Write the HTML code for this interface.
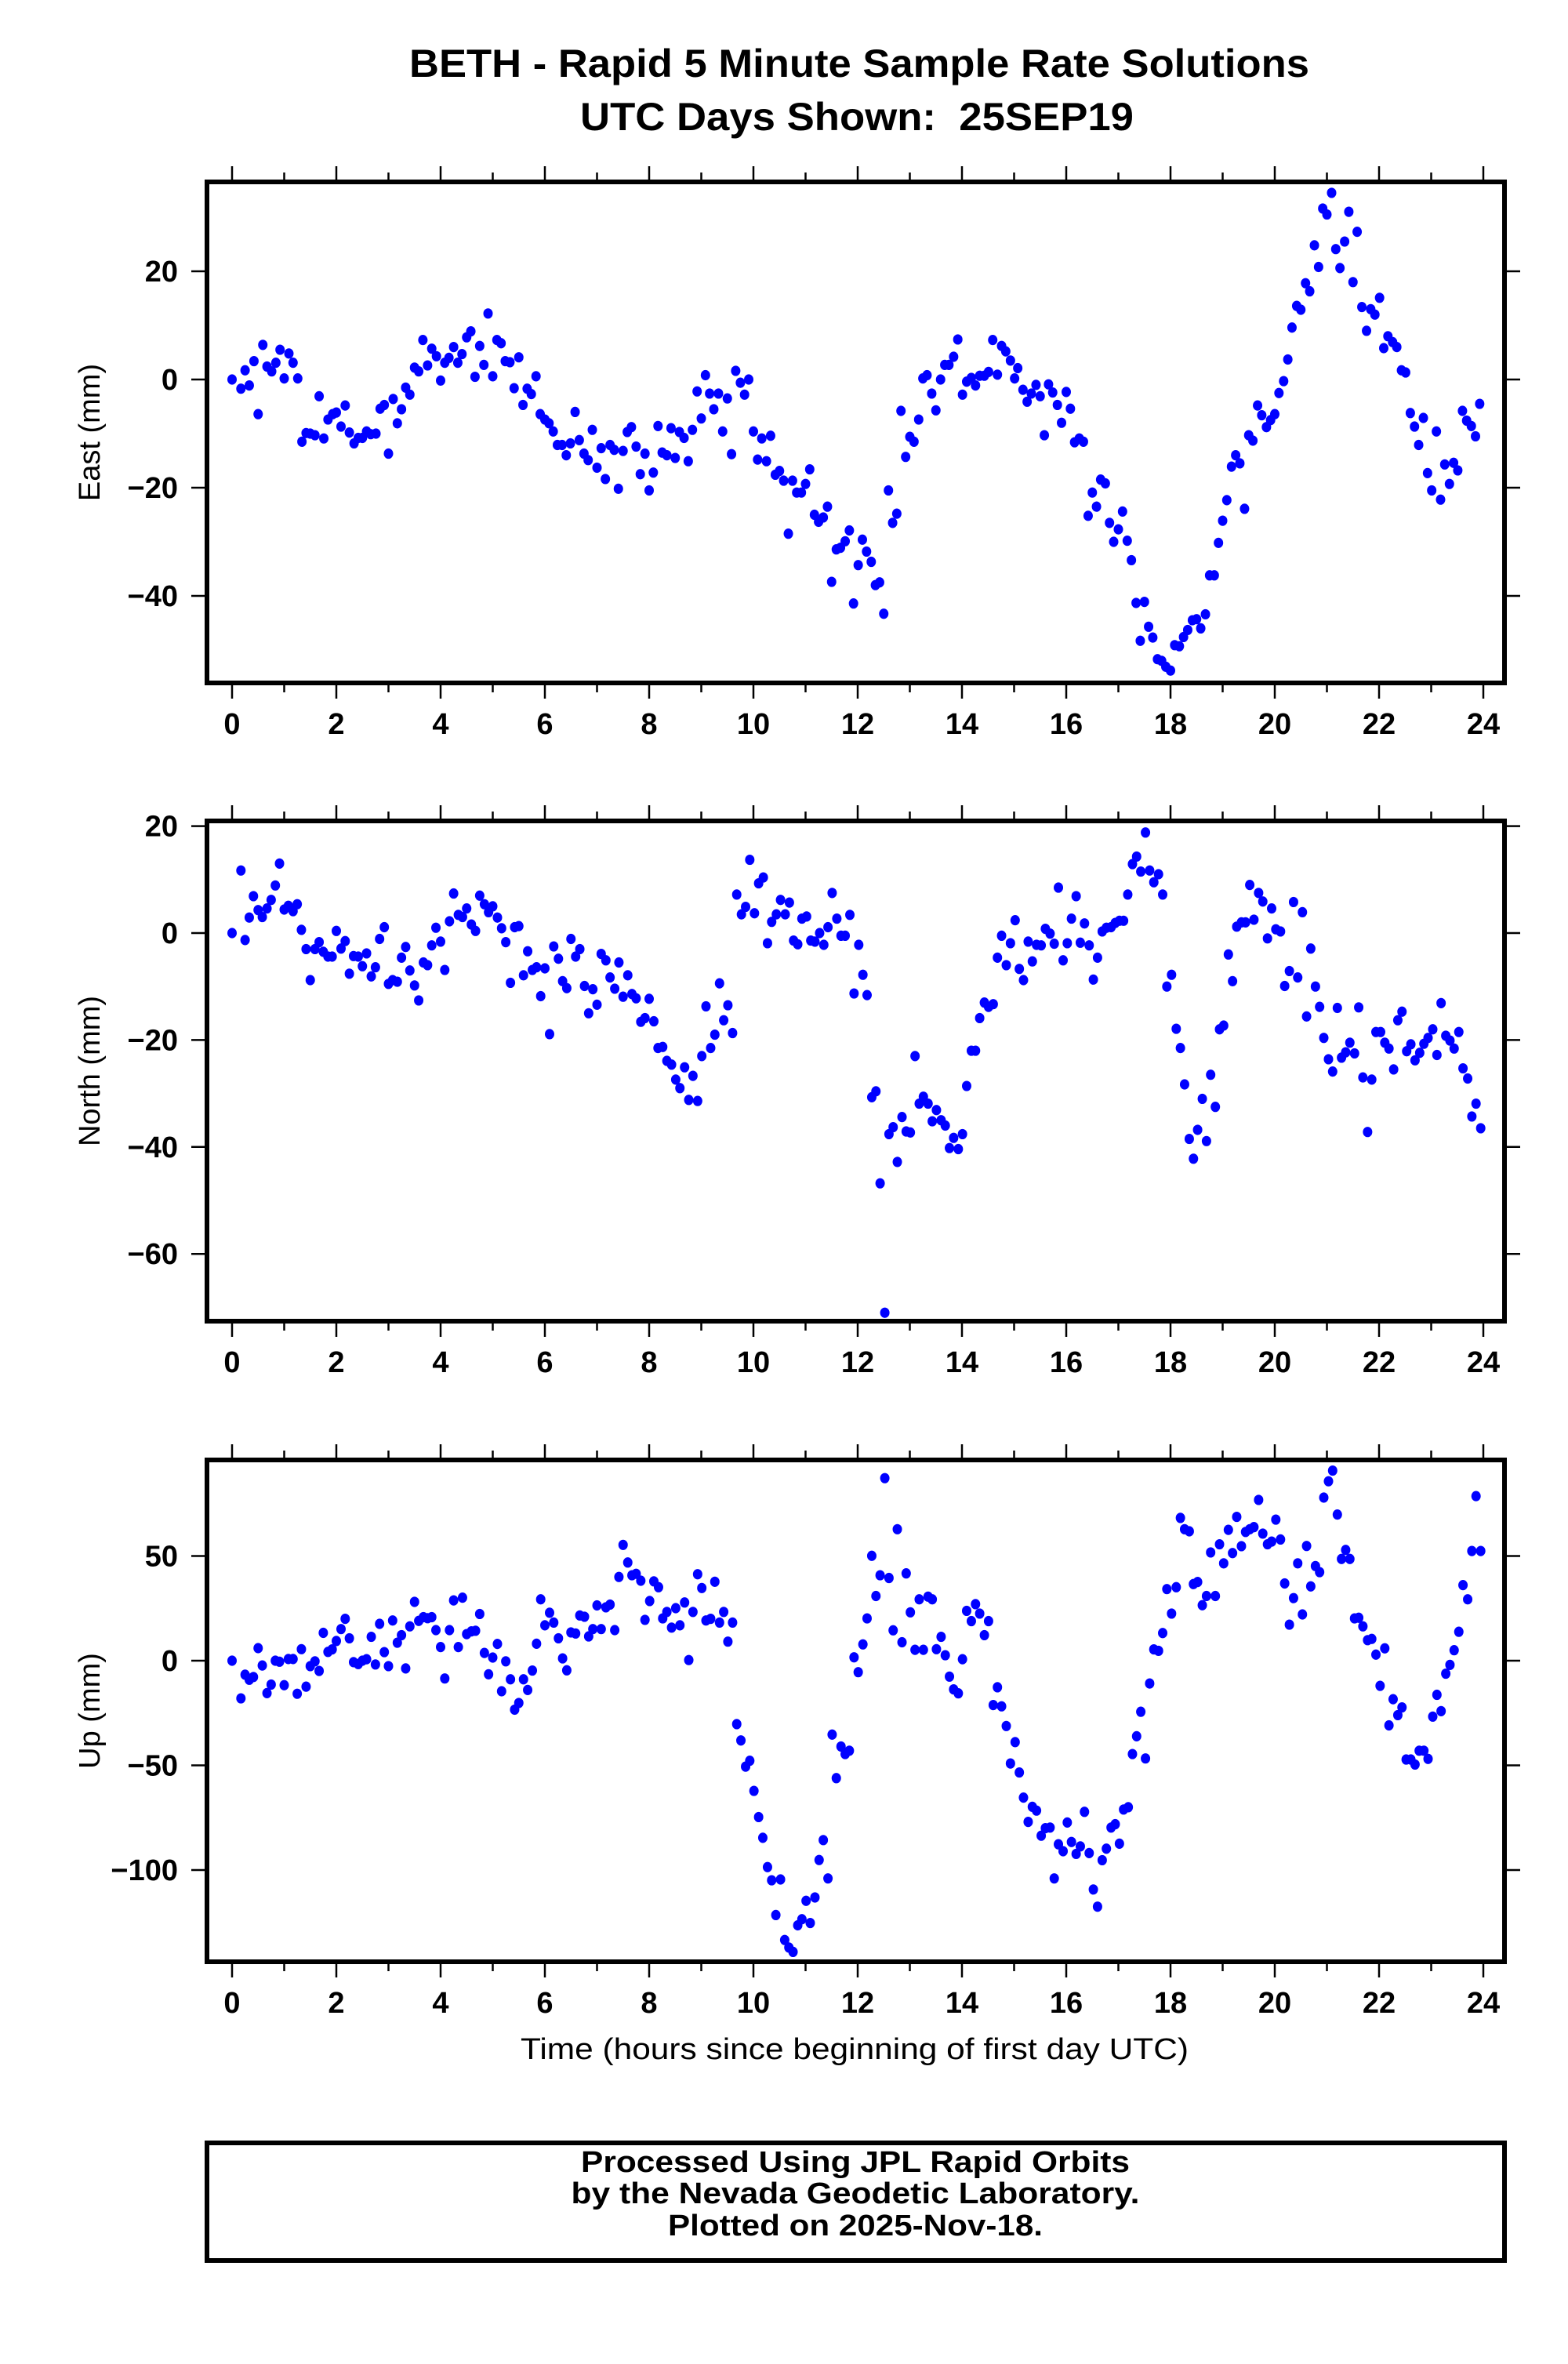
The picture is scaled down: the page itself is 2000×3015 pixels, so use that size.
<!DOCTYPE html>
<html><head><meta charset="utf-8"><title>BETH Rapid 5 Minute Solutions</title>
<style>html,body{margin:0;padding:0;background:#fff}svg{display:block}text{font-family:"Liberation Sans",Arial,sans-serif}</style>
</head><body>
<svg id="chart" xmlns="http://www.w3.org/2000/svg" width="2000" height="3015" viewBox="0 0 2000 3015">
<rect x="0" y="0" width="2000" height="3015" fill="#fff"/>
<text x="1096" y="98" text-anchor="middle" font-size="50" font-weight="bold" textLength="1148" lengthAdjust="spacingAndGlyphs">BETH - Rapid 5 Minute Sample Rate Solutions</text>
<text x="1093" y="166" text-anchor="middle" font-size="50" font-weight="bold" textLength="706" lengthAdjust="spacingAndGlyphs">UTC Days Shown:&#160; 25SEP19</text>
<text x="1090" y="2626" text-anchor="middle" font-size="38" textLength="852" lengthAdjust="spacingAndGlyphs">Time (hours since beginning of first day UTC)</text>
<rect x="264" y="2733" width="1655" height="150" fill="none" stroke="#000" stroke-width="6"/>
<text x="1091" y="2770" text-anchor="middle" font-size="38" font-weight="bold" textLength="700" lengthAdjust="spacingAndGlyphs">Processed Using JPL Rapid Orbits</text>
<text x="1091" y="2810" text-anchor="middle" font-size="38" font-weight="bold" textLength="725" lengthAdjust="spacingAndGlyphs">by the Nevada Geodetic Laboratory.</text>
<text x="1091" y="2851" text-anchor="middle" font-size="38" font-weight="bold" textLength="478" lengthAdjust="spacingAndGlyphs">Plotted on 2025-Nov-18.</text>
<g id="plots"></g>
</svg>
<script>
const xTicks = [0,2,4,6,8,10,12,14,16,18,20,22,24];
const eastTicks = [20,0,-20,-40];
const northTicks = [20,0,-20,-40,-60];
const upTicks = [50,0,-50,-100];

const eastTimes = [0,.17,.25,.33,.42,.5,.59,.67,.76,.84,.92,1.0,1.09,1.17,1.26,1.34,1.42,1.5,1.59,1.67,1.76,1.84,1.93,2.0,2.09,2.17,2.25,2.34,2.42,2.5,2.58,2.66,2.76,2.84,2.92,3.0,3.09,3.17,3.25,3.33,3.41,3.5,3.58,3.66,3.75,3.83,3.92,4.0,4.08,4.16,4.25,4.33,4.41,4.5,4.58,4.66,4.75,4.83,4.91,5.0,5.08,5.16,5.24,5.33,5.41,5.5,5.58,5.66,5.74,5.83,5.91,6.0,
6.08,6.16,6.24,6.33,6.41,6.49,6.58,6.66,6.75,6.83,6.91,7.0,7.08,7.16,7.25,7.33,7.41,7.5,7.58,7.66,7.75,7.83,7.92,8.0,8.08,8.17,8.25,8.34,8.42,8.5,8.58,8.67,8.75,8.83,8.92,9.0,9.08,9.16,9.24,9.33,9.41,9.5,9.58,9.66,9.75,9.83,9.91,10.0,10.08,10.16,10.25,10.33,10.42,10.5,10.58,10.67,10.75,10.83,10.92,11.0,11.08,11.17,11.25,11.34,11.42,11.5,11.59,11.67,11.76,11.84,11.92,12.01,12.09,12.17,12.26,12.34,12.42,12.5,12.59,12.67,12.75,12.83,12.92,13.0,13.08,13.17,13.25,13.33,13.42,13.5,13.59,13.67,13.75,13.84,13.92,14.01,14.09,14.18,14.26,14.34,14.43,14.51,14.59,14.68,14.76,14.84,14.93,15.01,
15.07,15.17,15.25,15.33,15.42,15.5,15.58,15.66,15.74,15.83,15.91,16.0,16.08,16.16,16.25,16.33,16.42,16.5,16.58,16.66,16.75,16.83,16.91,17.0,17.08,17.17,17.25,17.34,17.42,17.5,17.58,17.66,17.75,17.83,17.91,18.0,18.08,18.17,18.25,18.33,18.42,18.5,18.58,18.67,18.75,18.84,18.92,19.0,19.08,19.17,19.25,19.33,19.42,19.5,19.58,19.67,19.75,19.84,19.92,20.0,20.08,20.17,20.25,20.33,20.42,20.5,20.59,20.67,20.76,20.84,20.92,21.0,21.09,21.17,21.25,21.34,21.42,21.5,21.58,21.67,21.76,21.84,21.92,22.01,22.09,22.17,22.26,22.34,22.43,22.51,22.6,22.68,22.76,22.85,22.93,23.01,23.1,23.18,23.26,23.35,23.43,23.51,23.6,23.68,23.77,23.85,23.93];
const eastValues = [0,-1.7,1.7,-1.1,3.4,-6.4,6.4,2.4,1.5,3.1,5.5,.2,4.8,3.1,.2,-11.5,-9.9,-10,-10.3,-3.1,-10.9,-7.4,-6.4,-6.1,-8.7,-4.8,-9.8,-11.8,-10.8,-10.8,-9.6,-10.1,-10,-5.4,-4.7,-13.7,-3.6,-8.1,-5.5,-1.5,-2.8,2.2,1.5,7.3,2.6,5.7,4.3,-.2,3.1,4.0,6.0,3.1,4.7,7.8,8.9,.5,6.2,2.7,12.2,.6,7.3,6.7,3.4,3.2,-1.6,4.1,-4.7,-1.7,-2.7,.6,-6.4,-7.4,
-8.1,-9.6,-12.1,-12.1,-14,-11.8,-6,-11.2,-13.7,-14.9,-9.3,-16.3,-12.7,-18.4,-12.1,-13,-20.2,-13.2,-9.7,-8.8,-12.4,-17.5,-13.7,-20.5,-17.2,-8.6,-13.5,-14,-9,-14.5,-9.7,-10.8,-15.1,-9.3,-2.2,-7.2,.8,-2.6,-5.5,-2.6,-9.6,-3.5,-13.8,1.6,-.6,-2.8,0,-9.6,-14.8,-10.9,-15.1,-10.4,-17.6,-16.9,-18.7,-28.5,-18.7,-20.9,-20.9,-19.3,-16.6,-25,-26.3,-25.5,-23.5,-37.4,-31.4,-31.1,-29.9,-27.9,-41.4,-34.3,-29.6,-31.8,-33.7,-38,-37.5,-43.3,-20.5,-26.5,-24.8,-5.8,-14.3,-10.6,-11.5,-7.4,.2,.8,-2.6,-5.7,0,2.7,2.7,4.2,7.4,-2.8,-.4,.3,-1.1,.7,.7,1.4,7.3,.9,6.2,5.2,3.5,.2,
2.1,-1.9,-4.1,-2.6,-1.0,-3.1,-10.3,-.9,-2.4,-4.7,-8.0,-2.3,-5.4,-11.6,-10.9,-11.5,-25.2,-20.9,-23.5,-18.5,-19.2,-26.5,-30,-27.7,-24.4,-29.8,-33.4,-41.3,-48.3,-41.1,-45.7,-47.7,-51.7,-52,-53.1,-53.8,-49.1,-49.3,-47.6,-46.3,-44.5,-44.3,-46,-43.4,-36.2,-36.2,-30.2,-26.1,-22.3,-16.1,-14,-15.5,-23.9,-10.3,-11.3,-4.8,-6.6,-8.8,-7.5,-6.4,-2.5,-.3,3.7,9.6,13.6,12.9,17.8,16.3,24.8,20.8,31.6,30.5,34.5,24.1,20.6,25.5,31,18,27.3,13.4,9,13,12,15.1,5.8,8,6.9,6,1.7,1.3,-6.2,-8.7,-12.1,-7.1,-17.3,-20.5,-9.6,-22.2,-15.7,-19.3,-15.4,-16.8,-5.8,-7.6,-8.6,-10.5,-4.5];

const northTimes = [0,.17,.25,.33,.41,.5,.58,.67,.75,.83,.91,1.0,1.08,1.17,1.25,1.33,1.42,1.5,1.59,1.67,1.75,1.84,1.92,2.0,2.09,2.17,2.25,2.33,2.42,2.5,2.58,2.67,2.75,2.83,2.92,3.0,3.08,3.17,3.25,3.33,3.41,3.5,3.58,3.67,3.75,3.83,3.91,4.0,4.08,4.17,4.25,4.34,4.42,4.5,4.59,4.67,4.75,4.84,4.92,5.0,5.09,5.17,5.25,5.34,5.42,5.5,5.59,5.67,5.76,5.84,5.92,6.0,6.09,6.17,6.26,6.34,6.42,6.5,6.59,6.67,6.76,6.84,6.92,7.0,7.08,7.17,7.25,7.34,7.42,7.5,7.59,7.67,7.75,7.84,7.92,8.0,8.09,8.17,8.26,8.34,8.43,8.51,8.59,8.68,8.76,8.84,8.93,9.01,9.09,9.18,9.26,9.35,9.43,9.51,9.6,9.68,9.77,9.85,9.93,10.02,10.1,10.19,10.27,10.35,10.44,10.52,10.61,10.69,10.77,10.85,10.93,11.02,11.1,11.18,11.27,11.35,11.43,11.51,11.6,11.68,11.76,11.85,11.93,12.02,12.1,12.18,12.27,12.35,12.43,12.52,12.6,12.68,12.76,12.85,12.93,13.01,13.1,13.18,13.26,13.35,13.43,13.51,13.6,13.68,13.76,13.84,13.93,14.01,14.09,14.18,14.26,14.34,14.43,14.51,14.6,14.68,14.76,14.85,14.93,15.02,15.1,15.18,15.27,15.35,15.43,15.52,15.6,15.69,15.77,15.85,15.94,16.02,16.1,16.19,16.27,16.35,16.44,16.52,16.6,16.69,16.77,16.86,16.94,17.02,17.1,17.18,17.27,17.35,17.43,17.52,17.6,17.68,17.77,17.85,17.93,18.02,18.11,18.19,18.27,18.36,18.44,18.52,18.61,18.69,18.77,18.86,18.94,19.02,19.11,19.19,19.27,19.36,19.44,19.52,19.6,19.69,19.77,19.86,19.94,20.02,20.11,20.19,20.28,20.36,20.44,20.53,20.61,20.69,20.78,20.86,20.94,21.03,21.11,21.2,21.28,21.36,21.44,21.53,21.61,21.69,21.78,21.86,21.94,22.03,22.11,22.19,22.28,22.36,22.44,22.53,22.61,22.69,22.78,22.86,22.94,23.03,23.11,23.19,23.28,23.36,23.44,23.53,23.61,23.7,23.78,23.86,23.95];
const northValues = [0,11.7,-1.3,2.9,6.9,4.3,3,4.6,6.2,8.9,13,4.4,5.1,4.1,5.4,.6,-3,-8.8,-3,-1.7,-3.5,-4.4,-4.4,.4,-2.9,-1.5,-7.6,-4.3,-4.4,-6.2,-3.8,-8.1,-6.4,-1.1,1.1,-9.5,-8.8,-9.1,-4.6,-2.6,-7,-9.8,-12.6,-5.5,-6,-2.3,1,-1.6,-6.9,2.2,7.4,3.4,3,4.6,1.6,.4,7,5.4,3.9,5,2.9,.9,-1.7,-9.3,1.1,1.3,-7.9,-3.4,-6.9,-6.4,-11.8,-6.6,-18.9,-2.5,-4.8,-9,-10.3,-1.1,-4.4,-3,-9.9,-15,-10.5,-13.4,-3.9,-5.1,-8.3,-10.4,-5.5,-11.9,-7.9,-11.4,-12.2,-16.6,-15.9,-12.3,-16.5,-21.5,-21.3,-23.9,-24.6,-27.4,-29,-25.1,-31.2,-26.7,-31.4,-23,-13.7,-21.5,-19,-9.4,-16.3,-13.5,-18.7,7.2,3.5,4.9,13.7,3.7,9.3,10.4,-1.9,2.1,3.5,6.2,3.5,5.7,-1.4,-2.1,2.7,3.1,-1.4,-1.6,0,-2.2,1.1,7.5,2.7,-.5,-.5,3.4,-11.3,-2.2,-7.8,-11.6,-30.7,-29.6,-46.8,-71,-37.6,-36.3,-42.8,-34.4,-37.1,-37.3,-23,-31.9,-30.6,-31.9,-35.2,-33.1,-35,-36,-40.2,-38.3,-40.4,-37.6,-28.6,-22,-22,-15.9,-13,-13.8,-13.3,-4.6,-.5,-6,-1.9,2.4,-6.7,-8.8,-1.6,-5.3,-2.2,-2.3,.8,-.1,-2,8.5,-5.1,-1.9,2.7,6.9,-1.8,1.8,-2.3,-8.7,-4.6,.3,1,1.1,1.9,2.3,2.3,7.2,12.9,14.3,11.5,18.8,11.7,9.5,11,7.2,-10,-7.8,-17.9,-21.5,-28.3,-38.5,-42.2,-36.8,-31,-38.9,-26.5,-32.5,-18,-17.3,-4,-9,1.2,2,2,9,2.5,7.5,5.9,-1,4.6,.7,.3,-9.9,-7.1,5.8,-8.3,3.9,-15.6,-2.9,-10,-13.8,-19.6,-23.6,-25.9,-14,-23.3,-22.3,-20.5,-22.5,-13.9,-27,-37.2,-27.4,-18.5,-18.5,-20.5,-21.6,-25.5,-16.3,-14.7,-22.1,-20.8,-23.8,-22.4,-20.7,-19.6,-18,-22.8,-13.1,-19.2,-20.1,-21.6,-18.5,-25.3,-27.2,-34.3,-31.9,-36.5];

const upTimes = [0,.17,.25,.33,.41,.5,.58,.67,.75,.83,.91,1.0,1.08,1.17,1.25,1.33,1.42,1.5,1.59,1.67,1.75,1.84,1.92,2.0,2.09,2.17,2.25,2.33,2.42,2.5,2.58,2.67,2.75,2.83,2.92,3.0,3.08,3.17,3.25,3.33,3.41,3.5,3.58,3.67,3.75,3.83,3.91,4.0,4.08,4.17,4.25,4.34,4.42,4.5,4.59,4.67,4.75,4.84,4.92,5.0,5.09,5.17,5.25,5.34,5.42,5.5,5.59,5.67,5.76,5.84,5.92,6.0,6.09,6.17,6.26,6.34,6.42,6.5,6.59,6.67,6.76,6.84,6.92,7.0,7.08,7.17,7.25,7.34,7.42,7.5,7.59,7.67,7.75,7.84,7.92,8.01,8.09,8.18,8.26,8.34,8.43,8.51,8.59,8.68,8.76,8.84,8.93,9.01,9.09,9.18,9.26,9.35,9.43,9.51,9.6,9.68,9.76,9.85,9.93,10.01,10.1,10.18,10.27,10.35,10.43,10.52,10.6,10.68,10.76,10.85,10.93,11.01,11.09,11.18,11.26,11.34,11.43,11.51,11.59,11.68,11.76,11.84,11.93,12.01,12.1,12.18,12.27,12.35,12.43,12.52,12.6,12.68,12.76,12.85,12.93,13.01,13.1,13.18,13.26,13.35,13.43,13.51,13.6,13.68,13.76,13.84,13.93,14.01,14.09,14.18,14.26,14.34,14.43,14.51,14.6,14.68,14.76,14.85,14.93,15.02,15.1,15.18,15.27,15.35,15.43,15.52,15.6,15.69,15.77,15.85,15.94,16.02,16.1,16.19,16.27,16.35,16.44,16.52,16.6,16.69,16.77,16.86,16.94,17.02,17.1,17.19,17.27,17.35,17.43,17.52,17.6,17.68,17.77,17.85,17.93,18.02,18.11,18.19,18.27,18.36,18.44,18.52,18.61,18.69,18.77,18.86,18.94,19.02,19.11,19.19,19.27,19.36,19.44,19.52,19.6,19.69,19.77,19.86,19.94,20.02,20.11,20.19,20.28,20.36,20.44,20.53,20.61,20.69,20.78,20.86,20.94,21.03,21.11,21.2,21.28,21.36,21.44,21.53,21.61,21.69,21.78,21.86,21.94,22.02,22.11,22.19,22.27,22.36,22.44,22.52,22.61,22.69,22.77,22.86,22.94,23.03,23.11,23.19,23.28,23.36,23.44,23.53,23.61,23.7,23.78,23.86,23.95];
const upValues = [0,-18,-6.7,-9.1,-7.8,6,-2.3,-15.5,-11.4,0,-.5,-11.7,.8,.8,-15.8,5.5,-12.4,-2.6,-.3,-4.9,13.3,4.2,5.4,9.4,15.1,20,10.7,-.7,-1.6,0,.7,11.4,-1.8,17.6,4.1,-2.6,19.2,8.6,12.2,-3.7,16.4,28.1,19,20.8,20.3,20.8,14.6,6.5,-8.5,14.6,28.8,6.5,30.1,12.7,14,14.3,22.3,3.7,-6.5,1.5,8,-14.6,-.3,-8.9,-23.4,-20.2,-8.9,-14,-4.7,8.1,29.3,16.9,22.9,18.2,10.7,1.1,-4.6,13.5,13,21.6,21,11.6,15.1,26.4,15.1,25.5,26.8,14.6,40,55.3,46.9,40.8,41.5,38.2,19.5,28.5,37.9,35.1,20.2,23.3,15.8,25.1,16.9,27.8,.3,23.3,41.3,34.7,19.2,20,37.7,18.2,23.3,9.1,18.2,-30.3,-38.1,-50.6,-47.8,-62.2,-74.7,-84.6,-98.6,-104.9,-121.5,-104.5,-133.4,-137,-139.1,-126.4,-123.5,-114.7,-125.3,-113.1,-95.2,-85.7,-104,-35.3,-56.1,-41,-44.6,-43,1.6,-5.5,7.8,20.2,50.1,30.9,40.8,87.2,39.5,14.5,62.8,8.8,41.7,23.1,5.2,29.3,5.2,30.6,29.3,5.5,11.4,2.6,-7.6,-13.7,-15.6,.7,23.8,18.9,27,22.5,12.2,18.9,-21.2,-12.7,-21.8,-31.2,-49.1,-38.9,-53.4,-65.4,-77,-69.8,-71.6,-83.6,-80,-79.7,-104,-87.7,-91,-77.3,-86.6,-92.3,-88.7,-72.2,-91.9,-109.3,-117.5,-95.3,-89.8,-79.7,-78.1,-87.4,-71.1,-70,-44.6,-36.1,-24.4,-46.7,-10.9,5.4,4.7,13.2,34.2,22.5,35.1,68.2,62.8,61.8,36.6,37.6,26.5,30.9,51.7,30.9,55.6,46.5,62.5,51.4,68.7,54.7,61.5,62.8,63.8,76.8,60.7,55.6,56.9,67.4,57.9,36.9,17.2,29.9,46.5,22.1,54.8,35.5,45.2,42.3,77.9,85.7,90.8,69.8,48.6,52.9,48.6,20.2,20.5,16.4,9.8,10.4,2.9,-12,5.9,-30.9,-18.4,-26,-22.3,-47.2,-47.2,-49.6,-43,-43,-46.9,-26.7,-16.3,-24.1,-6.2,-2,5,13.8,36.1,29.3,52.4,78.6,52.4];

const NS = 'http://www.w3.org/2000/svg';
const plots = document.getElementById('plots');
const X0 = 264, X1 = 1919;
function xScale(t){ return 296 + 66.5 * t; }

function mk(tag, attrs){
  const e = document.createElementNS(NS, tag);
  for (const k in attrs) e.setAttribute(k, attrs[k]);
  return e;
}

function drawPanel(cfg){
  const g = mk('g', {});
  
  
  plots.appendChild(g);
  const yScale = v => cfg.zeroPx - cfg.pxPerUnit * v;
  for (let h = 0; h <= 24; h++) {
    const major = h % 2 === 0;
    const len = major ? 17 : 9;
    const x = xScale(h);
    const tt = mk('line', {x1:x, x2:x, y1:cfg.top-3, y2:cfg.top-3-len, stroke:'#000','stroke-width':2.5});
    
    
    g.appendChild(tt);
    const tb = mk('line', {x1:x, x2:x, y1:cfg.bottom+3, y2:cfg.bottom+3+len, stroke:'#000','stroke-width':2.5});
    
    
    g.appendChild(tb);
  }
  xTicks.forEach(h => {
    const lab = mk('text', {x:xScale(h), y:cfg.bottom+65, 'text-anchor':'middle','font-size':38,'font-weight':'bold'});
    lab.textContent = String(h);
    
    
    g.appendChild(lab);
  });
  cfg.ticks.forEach(v => {
    const y = yScale(v);
    const tl = mk('line', {x1:X0-3, x2:X0-20, y1:y, y2:y, stroke:'#000','stroke-width':2.5});
    
    
    g.appendChild(tl);
    const tr = mk('line', {x1:X1+3, x2:X1+20, y1:y, y2:y, stroke:'#000','stroke-width':2.5});
    
    
    g.appendChild(tr);
    const lab = mk('text', {x:227, y:y+13, 'text-anchor':'end','font-size':38,'font-weight':'bold'});
    lab.textContent = (v < 0 ? '\u2212' + Math.abs(v) : String(v));
    
    
    g.appendChild(lab);
  });
  const cy = (cfg.top + cfg.bottom) / 2;
  const at = mk('text', {x:0, y:0, 'text-anchor':'middle','font-size':38, transform:'translate(127,'+cy+') rotate(-90)'});
  at.textContent = cfg.title;
  
  
  g.appendChild(at);
  const dots = mk('g', {fill:'#0000ff'});
  
  
  g.appendChild(dots);
  cfg.times.forEach((t, i) => {
    const c = mk('ellipse', {cx:xScale(t), cy:yScale(cfg.values[i]), rx:6, ry:6.6});
    
    
    dots.appendChild(c);
  });
  const fr = mk('rect', {x:X0, y:cfg.top, width:X1-X0, height:cfg.bottom-cfg.top, fill:'none', stroke:'#000','stroke-width':6});
  
  
  g.appendChild(fr);
}

drawPanel({name:'east', title:'East (mm)', top:232, bottom:871, zeroPx:484, pxPerUnit:6.9, ticks:eastTicks, times:eastTimes, values:eastValues});
drawPanel({name:'north', title:'North (mm)', top:1047, bottom:1685, zeroPx:1190, pxPerUnit:6.82, ticks:northTicks, times:northTimes, values:northValues});
drawPanel({name:'up', title:'Up (mm)', top:1862, bottom:2502, zeroPx:2118, pxPerUnit:2.67, ticks:upTicks, times:upTimes, values:upValues});
</script>
</body></html>
